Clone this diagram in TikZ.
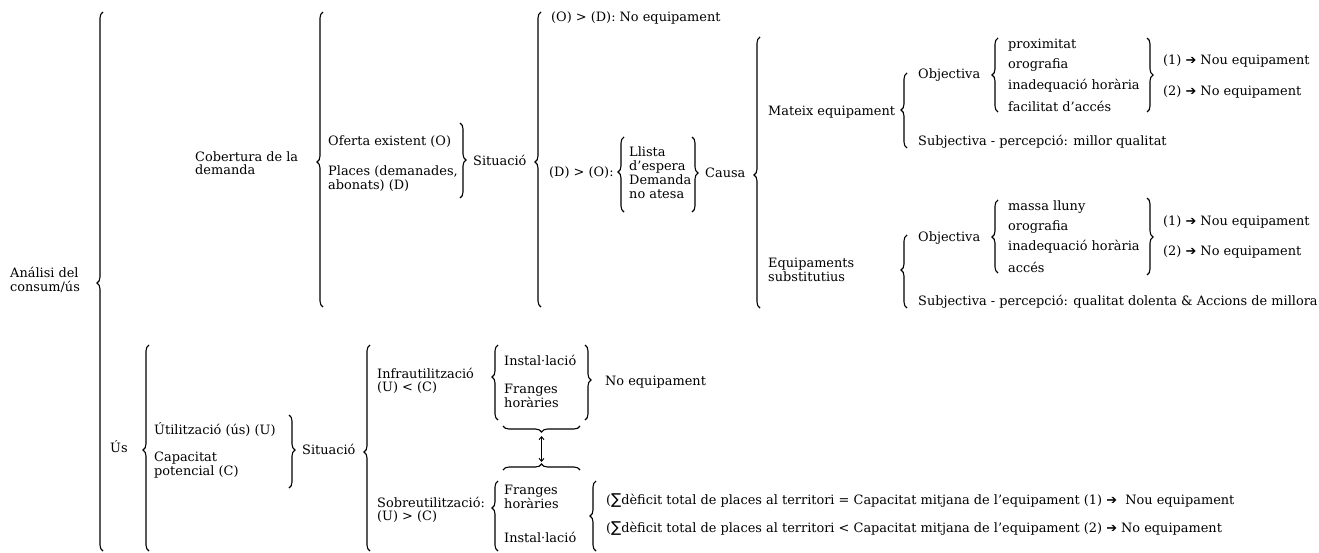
\documentclass[tikz,border=0pt]{standalone}
\usepackage{fontspec}
\setmainfont{DejaVu Serif}
\newfontfamily\symf{DejaVu Sans}
\usetikzlibrary{decorations.pathreplacing,arrows.meta}
\newcommand\fs{\fontsize{12.9}{13.5}\selectfont}
\newcommand\arr{{\symf ➔}}
\newcommand\sig{{\symf\fontsize{15}{15}\selectfont ∑}}
% left brace: x of stem, top, bottom, tip
\newcommand\LBr[4]{%
  \pgfmathsetmacro\asp{(#3-#4)/(#3-#2)}%
  \draw[brc, decoration={brace, amplitude=6pt, aspect=\asp}] ({#1+3},#3) -- ({#1+3},#2);}
% right brace
\newcommand\RBr[4]{%
  \pgfmathsetmacro\asp{(#4-#2)/(#3-#2)}%
  \draw[brc, decoration={brace, amplitude=6pt, aspect=\asp}] ({#1-3},#2) -- ({#1-3},#3);}
\begin{document}
\begin{tikzpicture}[x=1pt,y=-1pt,
  t/.style={inner sep=0pt, anchor=west, font=\fs, align=left},
  brc/.style={line width=1.1pt, decorate},
  dbl/.style={<->, >={Straight Barb[length=3pt,width=5pt]}, line width=0.9pt},
]
\useasboundingbox (0,0) rectangle (1319,552);
\clip (0,0) rectangle (1319,552);

% ---------- text ----------
\node[t] (ana) at (10,280) {Análisi del\\consum/ús};
\node[t] (cob) at (195,163) {Cobertura de la\\demanda};
\node[t] (of) at (328,142) {Oferta existent (O)};
\node[t] (pl) at (328,178.5) {Places (demanades,\\abonats) (D)};
\node[t] (sit1) at (473,160) {Situació};
\node[t] (od) at (551,18) {(O) > (D): No equipament};
\node[t] (do) at (549,173) {(D) > (O):};
\node[t, font=\fontsize{12.9}{14}\selectfont] (llis) at (629,173) {Llista\\d’espera\\Demanda\\no atesa};
\node[t] (causa) at (705,173) {Causa};

\node[t] (mat) at (768,112) {Mateix equipament};
\node[t] (obj1) at (918,75) {Objectiva};
\node[t] (p1) at (1008,45) {proximitat};
\node[t] (p2) at (1008,65) {orografia};
\node[t] (p3) at (1008,86) {inadequació horària};
\node[t] (p4) at (1008,106) {facilitat d’accés};
\node[t] (r11) at (1163,61) {(1) \arr{} Nou equipament};
\node[t] (r12) at (1163,92) {(2) \arr{} No equipament};
\node[t] (sub1) at (918,142) {Subjectiva - percepció: millor qualitat};

\node[t] (eqs) at (768,270) {Equipaments\\substitutius};
\node[t] (obj2) at (918,238) {Objectiva};
\node[t] (q1) at (1008,207) {massa lluny};
\node[t] (q2) at (1008,227) {orografia};
\node[t] (q3) at (1008,247) {inadequació horària};
\node[t] (q4) at (1008,267) {accés};
\node[t] (r21) at (1163,222) {(1) \arr{} Nou equipament};
\node[t] (r22) at (1163,252) {(2) \arr{} No equipament};
\node[t] (sub2) at (918,302) {Subjectiva - percepció: qualitat dolenta \& Accions de millora};

\node[t] (us) at (110,447) {Ús};
\node[t] (util) at (154,430) {Útilització (ús) (U)};
\node[t] (cap) at (154,465) {Capacitat\\potencial (C)};
\node[t] (sit2) at (302,449) {Situació};
\node[t] (infra) at (377,381) {Infrautilització\\(U) < (C)};
\node[t] (ins1) at (504,360) {Instal·lació};
\node[t] (fr1) at (504,396) {Franges\\horàries};
\node[t] (noeq) at (605,382) {No equipament};
\node[t] (sobre) at (377,510) {Sobreutilització:\\(U) > (C)};
\node[t] (fr2) at (504,497) {Franges\\horàries};
\node[t] (ins2) at (504,537) {Instal·lació};
\node[t] (s1) at (606,501) {(\sig dèficit total de places al territori = Capacitat mitjana de l’equipament (1) \arr{}\ \ Nou equipament};
\node[t] (s2) at (606,529) {(\sig dèficit total de places al territori < Capacitat mitjana de l’equipament (2) \arr{} No equipament};

% ---------- braces ----------
\LBr{100}{12}{551}{283}
\LBr{320}{12}{307}{162}
\RBr{463}{123}{198}{160}
\LBr{538}{12}{307}{162}
\LBr{621}{137}{212}{172}
\RBr{695}{137}{212}{173}
\LBr{757}{37}{308}{175}
\LBr{904}{73}{148}{110}
\LBr{995}{38}{112}{75}
\RBr{1150}{38}{112}{75}
\LBr{904}{235}{308}{270}
\LBr{995}{200}{273}{237}
\RBr{1150}{198}{275}{237}
\LBr{146}{345}{551}{450}
\RBr{292}{415}{488}{450}
\LBr{367}{345}{551}{452}
\LBr{495}{345}{420}{377}
\RBr{588}{345}{420}{380}
\LBr{495}{481}{551}{508}
\LBr{593}{481}{551}{516}
% horizontal braces
\draw[brc, decoration={brace, amplitude=6pt}] (580,426) -- (503,426);
\draw[brc, decoration={brace, amplitude=6pt}] (503,470) -- (580,470);
\coordinate (ubt) at (541.5,433);
\coordinate (obt) at (541.5,463);
\draw[dbl, shorten <=3pt, shorten >=1pt] (ubt) -- (obt);
\end{tikzpicture}
\end{document}
